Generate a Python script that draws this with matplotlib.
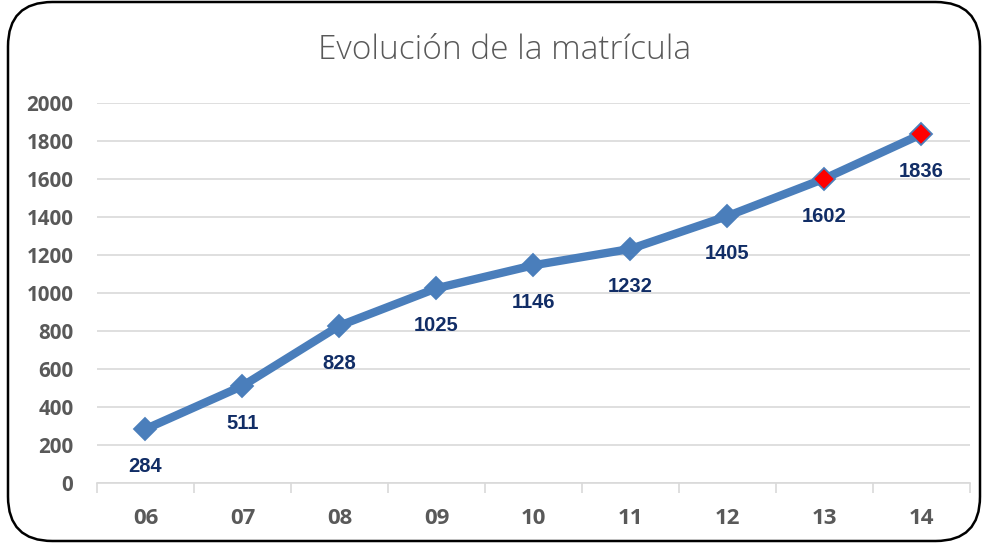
import matplotlib
matplotlib.use("Agg")
import matplotlib.pyplot as plt
from matplotlib.patches import FancyBboxPatch

categories = ["06", "07", "08", "09", "10", "11", "12", "13", "14"]
values = [284, 511, 828, 1025, 1146, 1232, 1405, 1602, 1836]
highlight = ["13", "14"]
yticks = [0, 200, 400, 600, 800, 1000, 1200, 1400, 1600, 1800, 2000]

W, H = 987, 546
fig = plt.figure(figsize=(W/100, H/100), dpi=100)
fig.patch.set_facecolor("white")

# rounded frame
frame = FancyBboxPatch((8/W, 5/H), (980-8)/W, (544-5)/H,
                       boxstyle="round,pad=0,rounding_size=0.045",
                       transform=fig.transFigure, fill=False,
                       edgecolor="black", linewidth=1.8, mutation_aspect=W/H)
fig.patches.append(frame)

ax = fig.add_axes([97/W, 1-483/H, (970-97)/W, (483-103)/H])
x = list(range(len(categories)))
line_color = "#4A7EBB"
ax.plot(x, values, color=line_color, linewidth=6, zorder=3,
        solid_joinstyle="miter")
for xi, v, c in zip(x, values, categories):
    fc = "#FF0000" if c in highlight else line_color
    ax.plot([xi], [v], marker="D", markersize=11.5, markerfacecolor=fc,
            markeredgecolor=line_color, markeredgewidth=1.3, zorder=4)
    ax.annotate(str(v), (xi, v), xytext=(0, -27), textcoords="offset points",
                ha="center", va="center", fontsize=14.5, fontweight="bold",
                color="#112D66", family="Liberation Sans", zorder=5)

ax.set_xlim(-0.5, len(categories) - 0.5)
ax.set_ylim(0, 2000)
ax.set_yticks(yticks)
ax.set_yticklabels([str(t) for t in yticks], fontsize=14.8, fontweight="bold",
                   color="#595959", family="Open Sans")
ax.yaxis.grid(True, color="#D9D9D9", linewidth=1.2)
ax.set_axisbelow(True)
ax.tick_params(axis="y", length=0, pad=17)

ax.set_xticks(x)
ax.set_xticklabels(categories, fontsize=16, fontweight="bold",
                   color="#595959", family="Open Sans")
ax.tick_params(axis="x", length=0, pad=18)
ax.set_xticks([i - 0.5 for i in range(len(categories) + 1)], minor=True)
ax.tick_params(axis="x", which="minor", length=7, color="#D9D9D9", width=1.2)

for s in ["top", "right", "left"]:
    ax.spines[s].set_visible(False)
ax.spines["bottom"].set_color("#D9D9D9")
ax.spines["bottom"].set_linewidth(1.2)

fig.text(505/W, 1-50/H, "Evolución de la matrícula", ha="center", va="center",
         fontsize=24, color="#595959", family="Open Sans", fontweight="light")

fig.savefig("out.png", dpi=100)
